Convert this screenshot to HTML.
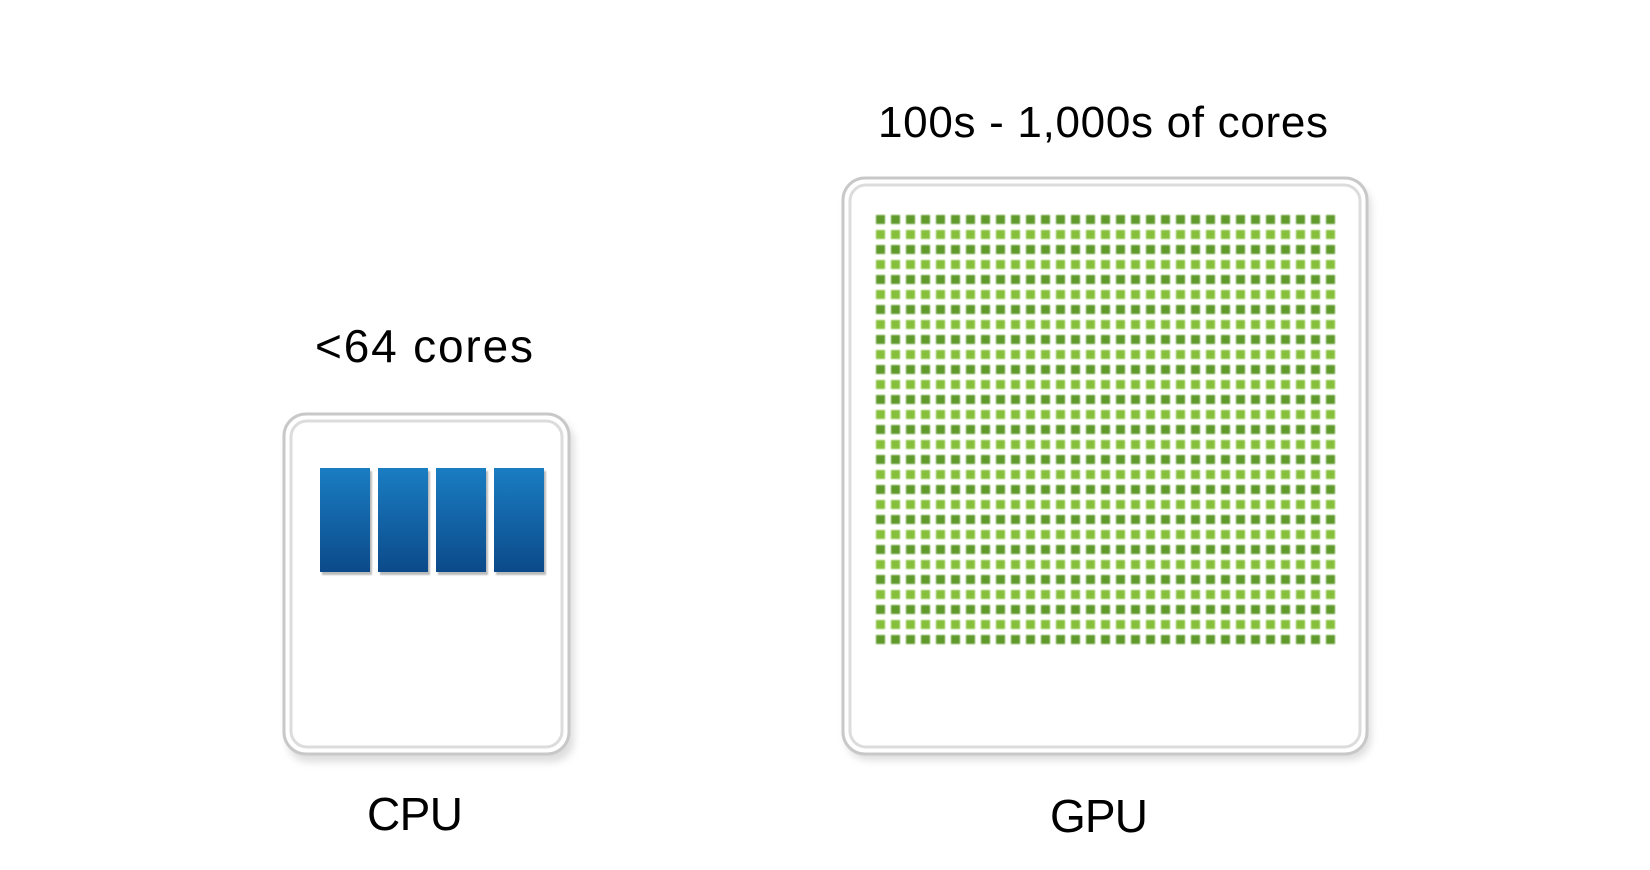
<!DOCTYPE html>
<html><head><meta charset="utf-8"><style>
html,body{margin:0;padding:0;background:#fff;width:1650px;height:870px;overflow:hidden}
svg{display:block}
text{font-family:"Liberation Sans",Arial,sans-serif;fill:#000}
</style></head><body>
<svg width="1650" height="870" viewBox="0 0 1650 870" xmlns="http://www.w3.org/2000/svg">
<defs>
<linearGradient id="bl" x1="0" y1="0" x2="0" y2="1">
<stop offset="0" stop-color="#1a7dc2"/><stop offset="1" stop-color="#0b4a8a"/></linearGradient>
<filter id="sh" x="-10%" y="-10%" width="120%" height="120%"><feGaussianBlur stdDeviation="4"/></filter>
<filter id="bb"><feGaussianBlur stdDeviation="0.8"/></filter>
<pattern id="gp" x="876" y="215" width="15" height="30" patternUnits="userSpaceOnUse">
<rect x="0" y="0" width="9" height="9" fill="#5f9a2c"/>
<rect x="0" y="15" width="9" height="9" fill="#86c03a"/>
</pattern>
</defs>
<text x="315" y="362" font-size="46" textLength="218">&lt;64 cores</text>
<text x="878" y="137" font-size="44" textLength="450">100s - 1,000s of cores</text>
<text x="367" y="830" font-size="46" textLength="96">CPU</text>
<text x="1050" y="832" font-size="46" textLength="98">GPU</text>

<rect x="287" y="420" width="287" height="342" rx="22" fill="#ddd" filter="url(#sh)"/>
<rect x="284" y="414" width="285" height="340" rx="22" fill="#fff" stroke="#c8c8c8" stroke-width="3"/>
<rect x="291" y="421" width="271" height="326" rx="16" fill="#fff" stroke="#dcdcdc" stroke-width="3"/>
<g filter="url(#bb)">
<rect x="322" y="471" width="50" height="104" fill="#555" opacity=".4"/>
<rect x="380" y="471" width="50" height="104" fill="#555" opacity=".4"/>
<rect x="438" y="471" width="50" height="104" fill="#555" opacity=".4"/>
<rect x="496" y="471" width="50" height="104" fill="#555" opacity=".4"/>
</g>
<rect x="320" y="468" width="50" height="104" fill="url(#bl)"/>
<rect x="378" y="468" width="50" height="104" fill="url(#bl)"/>
<rect x="436" y="468" width="50" height="104" fill="url(#bl)"/>
<rect x="494" y="468" width="50" height="104" fill="url(#bl)"/>

<rect x="846" y="184" width="525" height="576" rx="22" fill="#ddd" filter="url(#sh)"/>
<rect x="843" y="178" width="524" height="576" rx="22" fill="#fff" stroke="#c8c8c8" stroke-width="3"/>
<rect x="850" y="185" width="510" height="562" rx="16" fill="#fff" stroke="#dcdcdc" stroke-width="3"/>
<rect x="876" y="215" width="465" height="435" fill="url(#gp)" filter="url(#bb)"/>
</svg>
</body></html>
